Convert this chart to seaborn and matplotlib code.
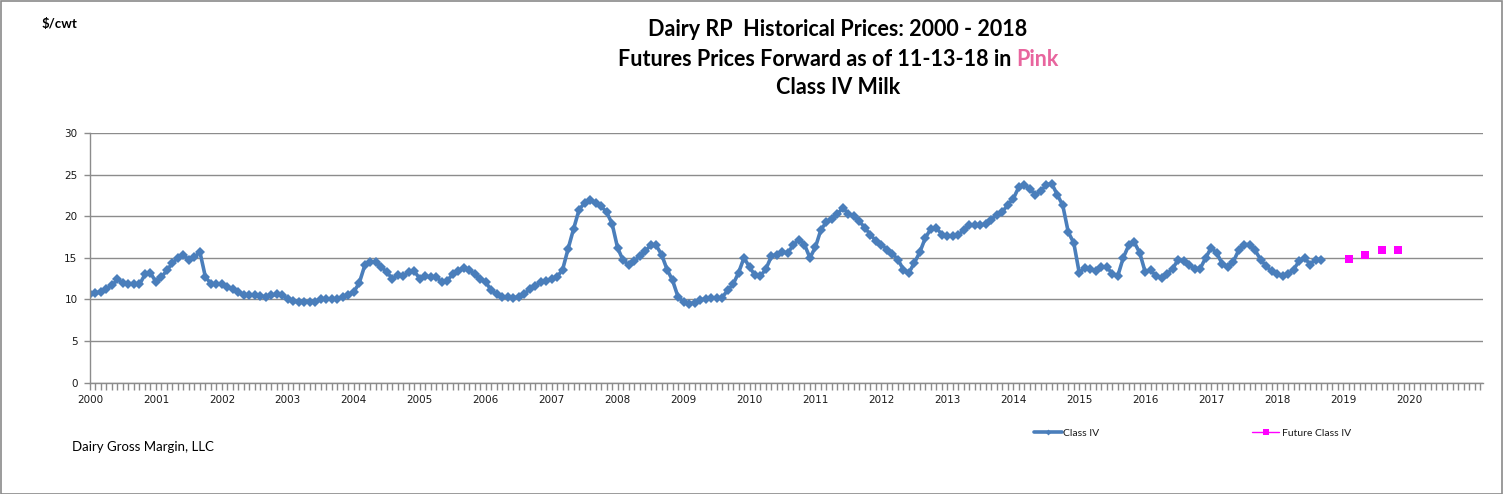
import matplotlib
matplotlib.use("Agg")
import matplotlib.pyplot as plt
from matplotlib.lines import Line2D
from matplotlib.patches import Rectangle
from matplotlib.ticker import MultipleLocator, FuncFormatter
import seaborn as sns
import pandas as pd
import numpy as np

# ---- data: monthly Class IV milk price ($/cwt) ----
class_iv_2000 = [10.7, 10.8, 10.9, 11.3, 11.7, 12.4, 12.0, 11.9, 11.9, 11.8, 13.0, 13.2]
class_iv_2001 = [12.1, 12.7, 13.5, 14.4, 15.0, 15.3, 14.8, 15.1, 15.7, 12.7, 11.9, 11.8]
class_iv_2002 = [11.9, 11.5, 11.3, 10.9, 10.5, 10.5, 10.5, 10.4, 10.3, 10.5, 10.6, 10.5]
class_iv_2003 = [10.1, 9.8, 9.7, 9.7, 9.7, 9.7, 10.0, 10.1, 10.0, 10.1, 10.3, 10.5]
class_iv_2004 = [10.9, 12.0, 14.1, 14.5, 14.5, 13.9, 13.3, 12.5, 12.9, 12.8, 13.3, 13.4]
class_iv_2005 = [12.5, 12.8, 12.7, 12.7, 12.1, 12.2, 13.1, 13.4, 13.8, 13.6, 13.0, 12.5]
class_iv_2006 = [12.1, 11.1, 10.6, 10.3, 10.3, 10.2, 10.3, 10.7, 11.2, 11.6, 12.1, 12.2]
class_iv_2007 = [12.4, 12.7, 13.6, 16.1, 18.5, 20.8, 21.6, 21.9, 21.6, 21.2, 20.5, 19.1]
class_iv_2008 = [16.2, 14.7, 14.2, 14.6, 15.2, 15.8, 16.5, 16.5, 15.4, 13.6, 12.3, 10.3]
class_iv_2009 = [9.7, 9.5, 9.6, 9.9, 10.1, 10.2, 10.2, 10.2, 11.1, 11.8, 13.2, 15.0]
class_iv_2010 = [13.9, 12.9, 12.8, 13.7, 15.2, 15.4, 15.7, 15.6, 16.6, 17.2, 16.6, 15.0]
class_iv_2011 = [16.3, 18.4, 19.3, 19.7, 20.3, 21.0, 20.3, 20.0, 19.4, 18.6, 17.8, 17.0]
class_iv_2012 = [16.6, 16.0, 15.5, 14.8, 13.6, 13.2, 14.4, 15.7, 17.4, 18.5, 18.6, 17.8]
class_iv_2013 = [17.6, 17.6, 17.7, 18.4, 18.9, 18.9, 18.9, 19.1, 19.6, 20.2, 20.5, 21.4]
class_iv_2014 = [22.1, 23.5, 23.8, 23.3, 22.6, 23.0, 23.8, 23.9, 22.6, 21.3, 18.1, 16.8]
class_iv_2015 = [13.2, 13.8, 13.7, 13.4, 13.9, 13.9, 13.1, 12.8, 15.0, 16.5, 16.9, 15.6]
class_iv_2016 = [13.3, 13.5, 12.8, 12.6, 13.1, 13.7, 14.8, 14.6, 14.2, 13.7, 13.7, 15.0]
class_iv_2017 = [16.2, 15.6, 14.3, 13.9, 14.5, 15.9, 16.6, 16.6, 15.9, 14.8, 14.0, 13.4]
class_iv_2018 = [13.0, 12.8, 13.0, 13.6, 14.6, 15.0, 14.2, 14.8, 14.8]  # Jan-Sep

hist_years = list(range(2000, 2019))
hist_series = [class_iv_2000, class_iv_2001, class_iv_2002, class_iv_2003, class_iv_2004,
               class_iv_2005, class_iv_2006, class_iv_2007, class_iv_2008, class_iv_2009,
               class_iv_2010, class_iv_2011, class_iv_2012, class_iv_2013, class_iv_2014,
               class_iv_2015, class_iv_2016, class_iv_2017, class_iv_2018]

# futures (as of 11-13-18), months of 2019
future_months = [2, 5, 8, 11]
future_prices = [14.9, 15.4, 15.9, 15.9]

year_ticks = list(range(2000, 2021))

# ---- build tables ----
rows = []
for yr, vals in zip(hist_years, hist_series):
    for i, v in enumerate(vals):
        rows.append({"date": yr + i / 12.0, "price": v})
hist_df = pd.DataFrame(rows)
fut_df = pd.DataFrame({"date": [2019 + (m - 1) / 12.0 for m in future_months],
                       "price": future_prices})

# ---- style ----
sns.set_style("white")
plt.rcParams["font.family"] = ["DejaVu Sans"]

BLUE = "#4A7EBB"
MAGENTA = "#FF00FF"
GRID = "#8C8C8C"
TXT = "#1A1A1A"

W, H, DPI = 1504, 494, 100
fig = plt.figure(figsize=(W / DPI, H / DPI), dpi=DPI)
fig.patch.set_facecolor("white")

L, R, T, B = 90, 1483, 133, 382.7
ax = fig.add_axes([L / W, 1 - B / H, (R - L) / W, (B - T) / H])

sns.lineplot(data=hist_df, x="date", y="price", ax=ax, color=BLUE, linewidth=2.6,
             marker="D", markersize=5.2, markeredgewidth=0, estimator=None,
             sort=False, legend=False)
sns.scatterplot(data=fut_df, x="date", y="price", ax=ax, color=MAGENTA, marker="s",
                s=34, linewidth=0, legend=False, zorder=3)

ax.set_xlim(2000, 2000 + (R - L) / 65.95)
ax.set_ylim(0, 30)
ax.set_xlabel("")
ax.set_ylabel("")

ax.yaxis.set_major_locator(MultipleLocator(5))
ax.set_xticks(year_ticks)
ax.xaxis.set_major_formatter(FuncFormatter(lambda v, p: f"{int(round(v))}"))
ax.xaxis.set_minor_locator(MultipleLocator(1 / 12))

ax.grid(axis="y", color=GRID, linewidth=1.0)
ax.grid(axis="x", visible=False)
ax.set_axisbelow(True)
for s in ["top", "right"]:
    ax.spines[s].set_visible(False)
for s in ["left", "bottom"]:
    ax.spines[s].set_color(GRID)
    ax.spines[s].set_linewidth(1.0)

ax.tick_params(axis="x", which="major", direction="out", length=5, width=1, color=GRID,
               labelsize=7.5, labelcolor=TXT, pad=4)
ax.tick_params(axis="x", which="minor", direction="out", length=5, width=1, color=GRID)
ax.tick_params(axis="y", which="major", direction="out", length=4, width=1, color=GRID,
               labelsize=7.5, labelcolor=TXT, pad=5)
ax.tick_params(bottom=True, left=True, which="both")

# ---- titles ----
TF = "Lato"
TS = 15.5
cx = 838 / W
fig.text(cx, 1 - 30 / H, "Dairy RP  Historical Prices: 2000 - 2018", ha="center", va="center",
         fontsize=TS, fontweight="bold", family=TF, color="black")
fig.text(cx, 1 - 88 / H, "Class IV Milk", ha="center", va="center",
         fontsize=TS, fontweight="bold", family=TF, color="black")

part1 = "Futures Prices Forward as of 11-13-18 in "
part2 = "Pink"
t1 = fig.text(0, 1 - 59 / H, part1, ha="left", va="center", fontsize=TS,
              fontweight="bold", family=TF, color="black")
t2 = fig.text(0, 1 - 59 / H, part2, ha="left", va="center", fontsize=TS,
              fontweight="bold", family=TF, color="#E8659E")
fig.canvas.draw()
r = fig.canvas.get_renderer()
w1 = t1.get_window_extent(r).width
w2 = t2.get_window_extent(r).width
x0 = 838 - (w1 + w2) / 2
t1.set_x(x0 / W)
t2.set_x((x0 + w1) / W)

fig.text(42 / W, 1 - 24 / H, "$/cwt", ha="left", va="center", fontsize=9.5,
         fontweight="bold", family=TF, color="black")
fig.text(72 / W, 1 - 447 / H, "Dairy Gross Margin, LLC", ha="left", va="center",
         fontsize=9.5, family=TF, color="black")

# ---- legend ----
h1 = Line2D([], [], color=BLUE, linewidth=2.6, marker="D", markersize=3, markeredgewidth=0)
h2 = Line2D([], [], color=MAGENTA, linewidth=1.0, marker="s", markersize=4.5, markeredgewidth=0)
lg1 = fig.legend([h1], ["Class IV"], loc="center left", bbox_to_anchor=(1034 / W, 1 - 433 / H),
                 frameon=False, fontsize=7.5, handlelength=2.7, handletextpad=0.05,
                 borderpad=0, borderaxespad=0)
lg2 = fig.legend([h2], ["Future Class IV"], loc="center left",
                 bbox_to_anchor=(1252 / W, 1 - 433 / H), frameon=False, fontsize=7.5,
                 handlelength=2.6, handletextpad=0.3, borderpad=0, borderaxespad=0)
for lg in (lg1, lg2):
    for t in lg.get_texts():
        t.set_family(TF)
        t.set_color(TXT)

# ---- outer border ----
fig.patches.append(Rectangle((0.5 / W, 0.5 / H), (W - 3) / W, (H - 2) / H,
                             transform=fig.transFigure, fill=False,
                             edgecolor="#8A8A8A", linewidth=1.2))

fig.savefig("out.png", dpi=DPI, facecolor="white")
